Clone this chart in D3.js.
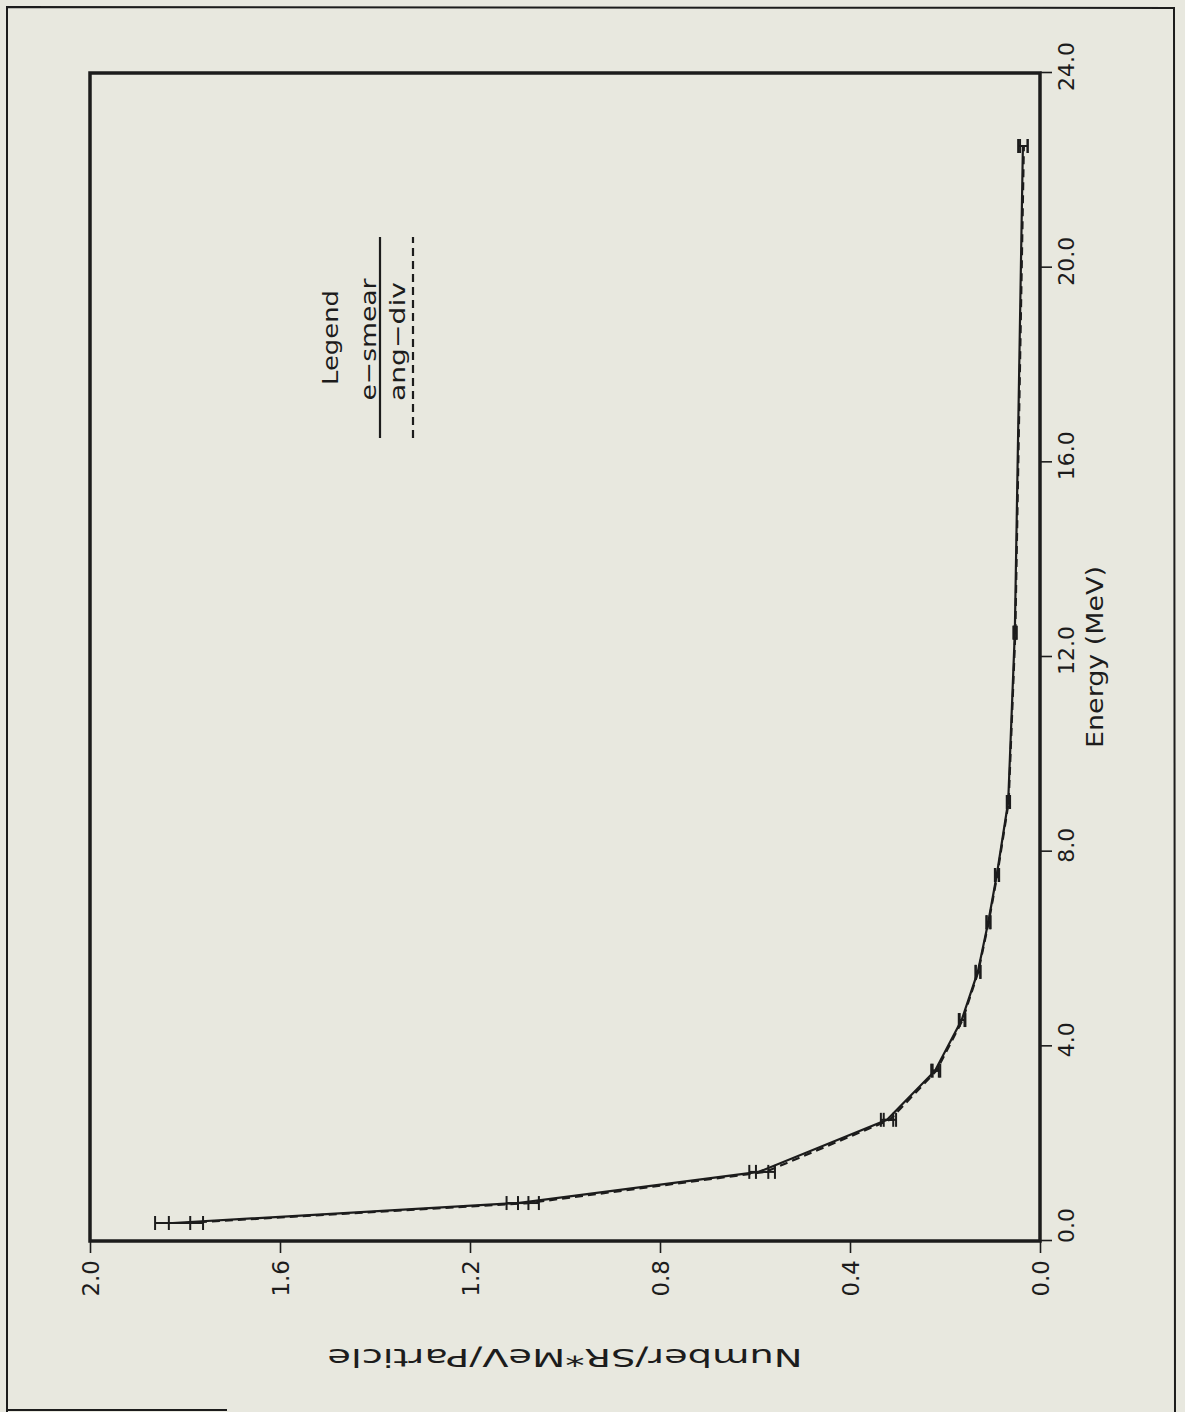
<!DOCTYPE html>
<html>
<head>
<meta charset="utf-8">
<script src="https://cdnjs.cloudflare.com/ajax/libs/d3/7.8.5/d3.min.js"></script>
<style>
  html, body { margin: 0; padding: 0; background: #e8e8df; }
  svg { display: block; }
  text { font-family: "DejaVu Sans", "Liberation Sans", sans-serif; fill: #1c1c1c; }
</style>
</head>
<body>
<svg id="chart" width="1185" height="1412"></svg>
<script>
// ---- data ----
const energy      = [0.37, 0.78, 1.42, 2.49, 3.50, 4.54, 5.53, 6.55, 7.52, 9.02, 12.5, 22.5];
const eSmear      = [1.826, 1.100, 0.592, 0.322, 0.221, 0.165, 0.131, 0.109, 0.091, 0.067, 0.053, 0.036];
const eSmearErr   = [0.037, 0.023, 0.020, 0.013, 0.008, 0.006, 0.005, 0.004, 0.004, 0.003, 0.003, 0.010];
const angDiv      = [1.798, 1.077, 0.578, 0.316, 0.218, 0.163, 0.130, 0.108, 0.090, 0.066, 0.052, 0.034];
const angDivErr   = [0.036, 0.022, 0.020, 0.013, 0.008, 0.006, 0.005, 0.004, 0.004, 0.003, 0.003, 0.008];
const energyTicks = [0, 4, 8, 12, 16, 20, 24];
const energyTickLabels = ["0.0", "4.0", "8.0", "12.0", "16.0", "20.0", "24.0"];
const numberTicks = [0, 0.4, 0.8, 1.2, 1.6, 2.0];
const numberTickLabels = ["0.0", "0.4", "0.8", "1.2", "1.6", "2.0"];
const seriesNames = ["e−smear", "ang−div"];
const xTitle = "Energy (MeV)";
const yTitle = "Number/SR*MeV/Particle";
const legendTitle = "Legend";

// ---- layout ----
const svg = d3.select("#chart");
const ink = "#1c1c1c";
const W = 1168, H = 950;          // plot size in the (unrotated) chart frame
const originX = 90, originY = 1241;

svg.append("rect").attr("width", 1185).attr("height", 1412).attr("fill", "#e8e8df");

// outer page frame
svg.append("path")
  .attr("d", "M7,1412 L7,7 L1174,8 L1175,1412 M7,1410 L227,1410")
  .attr("fill", "none").attr("stroke", ink).attr("stroke-width", 2);

const x = d3.scaleLinear().domain([0, 24]).range([0, W]);
const y = d3.scaleLinear().domain([0, 2]).range([H, 0]);

// chart is drawn rotated 90° counter-clockwise
const g = svg.append("g").attr("transform", `translate(${originX},${originY}) rotate(-90)`);

// axes (ticks outside the frame)
const xAxis = g.append("g").attr("transform", `translate(0,${H})`)
  .call(d3.axisBottom(x).tickValues(energyTicks).tickSize(12)
        .tickFormat((d, i) => energyTickLabels[i]));
xAxis.select(".domain").remove();
xAxis.selectAll("line").attr("stroke", ink).attr("stroke-width", 1.6);
xAxis.selectAll("text")
  .attr("y", 34).attr("dy", null)
  .attr("x", (d) => d === 0 ? 15 : 6)
  .attr("font-size", 22).attr("fill", ink);

const yAxis = g.append("g")
  .call(d3.axisLeft(y).tickValues(numberTicks).tickSize(12)
        .tickFormat((d, i) => numberTickLabels[i]));
yAxis.select(".domain").remove();
yAxis.selectAll("line").attr("stroke", ink).attr("stroke-width", 1.6);
yAxis.selectAll("text")
  .attr("x", -19).attr("dy", "0.36em")
  .attr("font-size", 23).attr("fill", ink);
svg.selectAll(".tick text").style("font-family", "'DejaVu Sans', sans-serif");

// frame
g.append("rect").attr("x", 0).attr("y", 0).attr("width", W).attr("height", H)
  .attr("fill", "none").attr("stroke", ink).attr("stroke-width", 3.5);

// titles
g.append("text").attr("x", W / 2).attr("y", 1013)
  .attr("text-anchor", "middle").attr("font-size", 23)
  .attr("textLength", 182).attr("lengthAdjust", "spacingAndGlyphs")
  .text(xTitle);
g.append("text")
  .attr("transform", `translate(-108,${H / 2}) rotate(-90)`)
  .attr("text-anchor", "middle").attr("font-size", 25)
  .attr("textLength", 475).attr("lengthAdjust", "spacingAndGlyphs")
  .text(yTitle);

// series
const series = [
  { name: seriesNames[0], vals: eSmear, errs: eSmearErr, dash: null },
  { name: seriesNames[1], vals: angDiv, errs: angDivErr, dash: "8,5" }
];
const line = d3.line().x(d => x(d.e)).y(d => y(d.v));
const cap = 7;
series.forEach(s => {
  const pts = energy.map((e, i) => ({ e, v: s.vals[i], err: s.errs[i] }));
  g.append("path").datum(pts).attr("d", line)
    .attr("fill", "none").attr("stroke", ink).attr("stroke-width", 2.2)
    .attr("stroke-dasharray", s.dash);
  const eb = g.append("g").attr("stroke", ink).attr("stroke-width", 2);
  pts.forEach(p => {
    const cx = x(p.e), y0 = y(p.v - p.err), y1 = y(p.v + p.err);
    eb.append("line").attr("x1", cx).attr("x2", cx).attr("y1", y0).attr("y2", y1);
    eb.append("line").attr("x1", cx - cap).attr("x2", cx + cap).attr("y1", y0).attr("y2", y0);
    eb.append("line").attr("x1", cx - cap).attr("x2", cx + cap).attr("y1", y1).attr("y2", y1);
  });
});

// legend
const lg = g.append("g");
const lx0 = 803, lx1 = 1004, lcx = (lx0 + lx1) / 2;
lg.append("text").attr("x", lcx).attr("y", 248).attr("text-anchor", "middle")
  .attr("font-size", 22).attr("textLength", 95).attr("lengthAdjust", "spacingAndGlyphs").text(legendTitle);
lg.append("text").attr("x", lcx - 2).attr("y", 286).attr("text-anchor", "middle")
  .attr("font-size", 22).attr("textLength", 122).attr("lengthAdjust", "spacingAndGlyphs").text(seriesNames[0]);
lg.append("line").attr("x1", lx0).attr("x2", lx1).attr("y1", 290).attr("y2", 290)
  .attr("stroke", ink).attr("stroke-width", 2.2);
lg.append("text").attr("x", lcx - 4).attr("y", 315).attr("text-anchor", "middle")
  .attr("font-size", 22).attr("textLength", 119).attr("lengthAdjust", "spacingAndGlyphs").text(seriesNames[1]);
lg.append("line").attr("x1", lx0).attr("x2", lx1).attr("y1", 323).attr("y2", 323)
  .attr("stroke", ink).attr("stroke-width", 2.2).attr("stroke-dasharray", "8,5");
</script>
</body>
</html>
